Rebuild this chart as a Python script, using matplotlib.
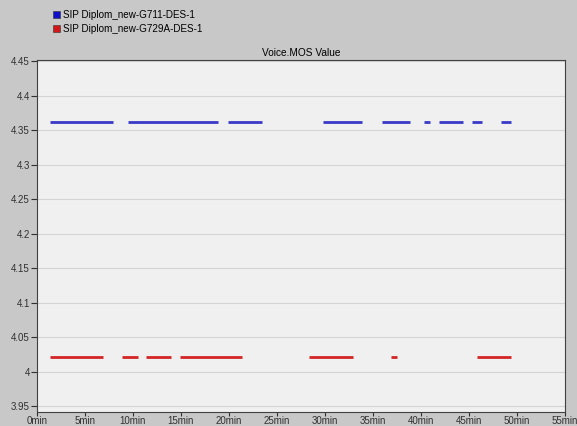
import matplotlib
matplotlib.use("Agg")
from matplotlib import pyplot as plt

# segments of the two series (minutes), gaps = no samples
g711_label = "SIP Diplom_new-G711-DES-1"
g711_value = 4.362
g711_starts = [1.35, 9.45, 19.9, 29.8, 35.9, 40.3, 41.9, 45.3, 48.3]
g711_ends = [7.9, 18.9, 23.4, 33.9, 38.9, 40.9, 44.4, 46.4, 49.4]

g729_label = "SIP Diplom_new-G729A-DES-1"
g729_value = 4.021
g729_starts = [1.35, 8.9, 11.35, 14.9, 28.3, 36.9, 45.8]
g729_ends = [6.9, 10.5, 14.0, 21.4, 32.9, 37.5, 49.4]

x_ticks = list(range(0, 60, 5))
x_labels = [f"{t}min" for t in x_ticks]
y_ticks = [3.95, 4.0, 4.05, 4.1, 4.15, 4.2, 4.25, 4.3, 4.35, 4.4, 4.45]
y_labels = ["3.95", "4", "4.05", "4.1", "4.15", "4.2", "4.25", "4.3", "4.35", "4.4", "4.45"]

title = "Voice.MOS Value"
blue = "#3a3ac8"
red = "#d42424"

plt.rcParams['font.family'] = ['Liberation Sans', 'DejaVu Sans']

fig = plt.figure(figsize=(5.77, 4.26), dpi=100)
fig.patch.set_facecolor("#c8c8c8")
ax = fig.add_axes([0.0641, 0.0329, 0.915, 0.826])
ax.set_facecolor("#f0f0f0")

ax.hlines([g711_value] * len(g711_starts), g711_starts, g711_ends, colors=blue, linewidth=2.0)
ax.hlines([g729_value] * len(g729_starts), g729_starts, g729_ends, colors=red, linewidth=2.0)

ax.set_xlim(0, 55)
ax.set_ylim(3.942, 4.4515)
ax.set_xticks(x_ticks)
ax.set_xticklabels(x_labels)
ax.set_yticks(y_ticks)
ax.set_yticklabels(y_labels)
ax.tick_params(axis="both", labelsize=7, length=4, width=0.8, colors="#303030", pad=1)
ax.tick_params(axis="x", length=3, pad=0)
ax.grid(axis="y", color="#d4d4d4", linewidth=0.8)
ax.set_axisbelow(True)
for s in ax.spines.values():
    s.set_color("#404040")
    s.set_linewidth(0.8)

ax.set_title(title, fontsize=7.3, pad=3)

# legend drawn as little squares with text above the plot
fig.patches.append(plt.Rectangle((0.092, 0.957), 0.0125, 0.017, transform=fig.transFigure,
                                 facecolor="#1010c8", edgecolor="#303030", linewidth=0.4))
fig.patches.append(plt.Rectangle((0.092, 0.924), 0.0125, 0.017, transform=fig.transFigure,
                                 facecolor="#d01818", edgecolor="#303030", linewidth=0.4))
fig.text(0.110, 0.965, g711_label, fontsize=7.1, va="center", ha="left")
fig.text(0.110, 0.932, g729_label, fontsize=7.1, va="center", ha="left")

plt.savefig("out.png", dpi=100, facecolor=fig.get_facecolor())
